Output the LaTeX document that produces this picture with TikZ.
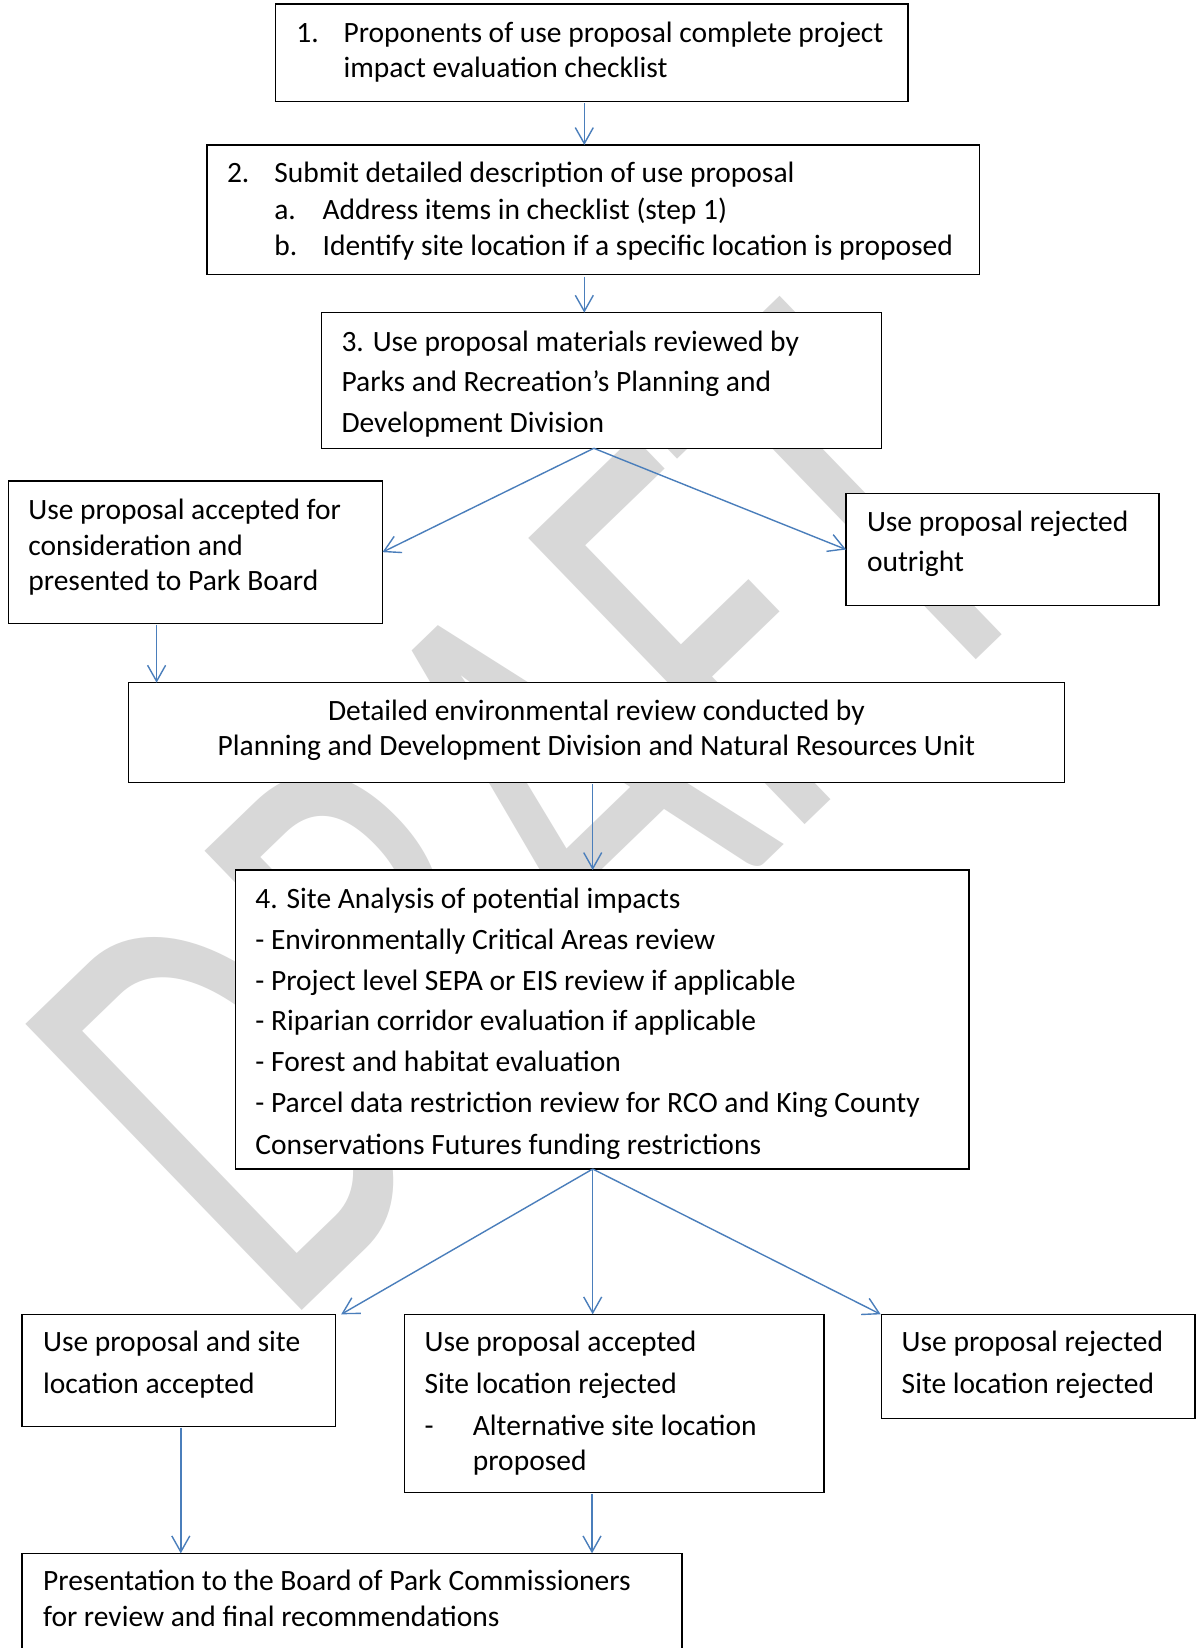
\documentclass[tikz,border=0pt]{standalone}
\usepackage{fontspec}
\setmainfont{Carlito}
\usetikzlibrary{arrows.meta}
\definecolor{arrowblue}{RGB}{74,126,187}
\definecolor{wmgray}{RGB}{216,216,216}
\newcommand{\fsz}{\fontsize{29.5}{35}\selectfont}
\begin{document}
\begin{tikzpicture}[x=1pt,y=-1pt,
  box/.style={draw=black, line width=1.3pt, fill=white, inner sep=0pt, outer sep=0pt, anchor=north west},
  txt/.style={anchor=base west, inner sep=0pt, outer sep=0pt, font=\fsz},
  ctxt/.style={anchor=base, inner sep=0pt, outer sep=0pt, font=\fsz},
  arr/.style={draw=arrowblue, line width=1.4pt, -{Straight Barb[length=16pt,width=18pt]}}]
\useasboundingbox[fill=white] (0,0) rectangle (1197,1648);
% watermark
\node[rotate=44, text=wmgray, inner sep=0pt, anchor=base west, font=\fontsize{620}{620}\selectfont] (wm) at (282,1330) {\scalebox{0.65}[1]{DRAFT}};
% boxes
\node[box, minimum width=632.7pt, minimum height=97.7pt] (b1) at (275.3,4) {};
\node[box, minimum width=772.5pt, minimum height=129.7pt] (b2) at (207,145) {};
\node[box, minimum width=560.1pt, minimum height=135.6pt] (b3) at (321.6,312.7) {};
\node[box, minimum width=374.1pt, minimum height=142.3pt] (bL) at (8.4,481) {};
\node[box, minimum width=313pt, minimum height=112.4pt] (bR) at (846,493.3) {};
\node[box, minimum width=936.4pt, minimum height=99.6pt] (bE) at (128.2,682.7) {};
\node[box, minimum width=733.6pt, minimum height=299pt] (b4) at (235.4,870) {};
\node[box, minimum width=313.2pt, minimum height=112.4pt] (bBL) at (22,1314.3) {};
\node[box, minimum width=419.3pt, minimum height=178.4pt] (bBM) at (404.6,1314.3) {};
\node[box, minimum width=313.2pt, minimum height=104pt] (bBR) at (881.7,1314.3) {};
\node[box, minimum width=660pt, minimum height=120pt] (bF) at (22,1553.3) {};
% texts box 1
\node[txt] (t1n) at (296.4,42.7) {1.};
\node[txt] (t1a) at (343.6,42.7) {Proponents of use proposal complete project};
\node[txt] (t1b) at (343.6,77.3) {impact evaluation checklist};
% box 2
\node[txt] (t2n) at (227,182.7) {2.};
\node[txt] (t2a) at (274.3,182.7) {Submit detailed description of use proposal};
\node[txt] (t2bn) at (274.3,219) {a.};
\node[txt] (t2b) at (322.6,219) {Address items in checklist (step 1)};
\node[txt] (t2cn) at (274.3,255.3) {b.};
\node[txt] (t2c) at (322.6,255.3) {Identify site location if a specific location is proposed};
% box 3
\node[txt] (t3a) at (341.5,351.7) {3. Use proposal materials reviewed by};
\node[txt] (t3b) at (341.5,391.7) {Parks and Recreation’s Planning and};
\node[txt] (t3c) at (341.5,432.7) {Development Division};
% box L
\node[txt] (tLa) at (28.4,519) {Use proposal accepted for};
\node[txt] (tLb) at (28.4,555) {consideration and};
\node[txt] (tLc) at (28.4,590) {presented to Park Board};
% box R
\node[txt] (tRa) at (867,531.7) {Use proposal rejected};
\node[txt] (tRb) at (867,571.7) {outright};
% box E
\node[ctxt] (tEa) at (596.4,720) {Detailed environmental review conducted by};
\node[ctxt] (tEb) at (596.4,755) {Planning and Development Division and Natural Resources Unit};
% box 4
\node[txt] (t4a) at (255.4,908.3) {4. Site Analysis of potential impacts};
\node[txt] (t4b) at (255.4,949.3) {- Environmentally Critical Areas review};
\node[txt] (t4c) at (255.4,990) {- Project level SEPA or EIS review if applicable};
\node[txt] (t4d) at (255.4,1030.7) {- Riparian corridor evaluation if applicable};
\node[txt] (t4e) at (255.4,1071.7) {- Forest and habitat evaluation};
\node[txt] (t4f) at (255.4,1112.3) {- Parcel data restriction review for RCO and King County};
\node[txt] (t4g) at (255.4,1154) {Conservations Futures funding restrictions};
% bottom boxes
\node[txt] (tBLa) at (43.1,1351.7) {Use proposal and site};
\node[txt] (tBLb) at (43.1,1393.3) {location accepted};
\node[txt] (tBMa) at (424.6,1351.7) {Use proposal accepted};
\node[txt] (tBMb) at (424.6,1393.3) {Site location rejected};
\node[txt] (tBMn) at (424.6,1435) {-};
\node[txt] (tBMc) at (472.9,1435) {Alternative site location};
\node[txt] (tBMd) at (472.9,1470.7) {proposed};
\node[txt] (tBRa) at (901.7,1351.7) {Use proposal rejected};
\node[txt] (tBRb) at (901.7,1393.3) {Site location rejected};
\node[txt] (tFa) at (43.1,1590) {Presentation to the Board of Park Commissioners};
\node[txt] (tFb) at (43.1,1626.7) {for review and final recommendations};
% connectors
\coordinate (p12) at (584.3,103.5);
\coordinate (p23) at (584.3,276.5);
\coordinate (f3) at (593.8,448.3);
\coordinate (pLE) at (156.6,624.5);
\coordinate (pE4) at (592.7,784);
\coordinate (f4) at (592.7,1169);
\coordinate (pBLF) at (180.8,1427.5);
\coordinate (pBMF) at (592,1493.5);
\draw[arr] (p12) -- (p12 |- b2.north);
\draw[arr] (p23) -- (p23 |- b3.north);
\draw[arr] (f3) -- (bL.east);
\draw[arr] (f3) -- (bR.west);
\draw[arr] (pLE) -- (pLE |- bE.north);
\draw[arr] (pE4) -- (pE4 |- b4.north);
\draw[arr] (f4) -- ([xshift=6pt]bBL.north east);
\draw[arr] (f4) -- (f4 |- bBM.north);
\draw[arr] (f4) -- ([xshift=-1pt]bBR.north west);
\draw[arr] (pBLF) -- (pBLF |- bF.north);
\draw[arr] (pBMF) -- (pBMF |- bF.north);
\end{tikzpicture}
\end{document}
